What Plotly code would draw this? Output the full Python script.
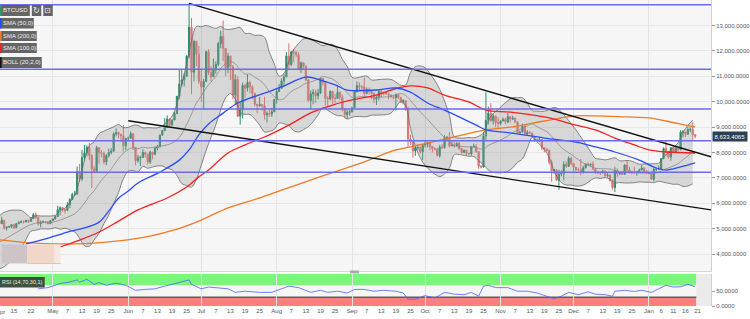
import pandas as pd
import plotly.graph_objects as go

# ------------------------------------------------------------------ data
first_date = "2019-03-20"
first_open = 4020
closes = [
    4070, 3990, 4000, 4010, 3990, 3930, 3950, 4100, 4090, 4120, 4110, 4105,
    4150, 4880, 4970, 4910, 5040, 5060, 5200, 5290, 5200, 5330, 5030, 5070, 5080, 5160, 5040, 5200, 5240, 5280, 5270, 5330, 5290, 5390, 5550, 5430, 5200, 5260, 5280, 5270, 5200, 5320,
    5380, 5480, 5750, 5830, 5760, 5720, 5940, 6150, 6350, 6360, 7250, 6960, 7800, 7980, 8200, 7880, 7360, 7260, 8190, 7990, 7960, 7630, 7880, 8000, 8060, 8730, 8790, 8720, 8660, 8270, 8550,
    8560, 8740, 8200, 7680, 7790, 7810, 8000, 7930, 7630, 8020, 7930, 8170, 8230, 8690, 8860, 8990, 9320, 9080, 9280, 9530, 10210, 10700, 10860, 11010, 11790, 12930, 11160, 12370, 11870, 10800,
    10580, 10800, 11970, 11150, 10980, 11250, 11470, 12290, 12570, 12100, 11340, 11800, 11390, 10260, 10870, 9430, 9680, 10640, 10530, 10760, 10590, 10330, 9900, 9840, 9890, 9850, 9480, 9530, 9510, 9600, 10090,
    10400, 10530, 10820, 10980, 11800, 11460, 11960, 11950, 11850, 11280, 11530, 11390, 10860, 10050, 10310, 10370, 10230, 10340, 10920, 10760, 10130, 10110, 10410, 10140, 10130, 10370, 10180, 9720, 9490, 9580, 9600,
    9760, 10390, 10630, 10580, 10580, 10320, 10480, 10400, 10320, 10100, 10160, 10410, 10360, 10360, 10310, 10260, 10190, 10160, 10280, 10170, 9990, 10040, 9700, 8530, 8430, 8060, 8190, 8200, 8040, 8300,
    8330, 8390, 8230, 8150, 8140, 7880, 8210, 8190, 8590, 8590, 8260, 8300, 8280, 8360, 8160, 8000, 8090, 7960, 7950, 8230, 8240, 8030, 7460, 7430, 8660, 9260, 9550, 9250, 9430, 9180, 9140,
    9240, 9300, 9200, 9410, 9310, 9350, 9200, 8770, 8810, 9050, 8730, 8800, 8760, 8630, 8470, 8490, 8510, 8180, 8120, 8080, 7620, 7280, 7320, 6910, 7150, 7170, 7530, 7460, 7770, 7570,
    7420, 7320, 7320, 7220, 7400, 7550, 7510, 7540, 7360, 7230, 7200, 7200, 7260, 7080, 7110, 6890, 6620, 7290, 7160, 7190, 7140, 7510, 7320, 7250, 7200, 7200, 7250, 7310, 7390, 7250, 7190,
    7200, 6950, 7340, 7350, 7350, 7760, 8160, 8040, 7820, 8190, 8020, 8180, 8110, 8810, 8810, 8720, 8900, 8910, 8700, 8633.4065,
]
highs = [
    4090, 4080, 4020, 4030, 4020, 4000, 3970, 4110, 4100, 4140, 4130, 4120,
    4170, 5080, 5300, 5050, 5060, 5240, 5270, 5360, 5300, 5470, 5350, 5100, 5120, 5180, 5200, 5230, 5300, 5330, 5330, 5350, 5350, 5460, 5620, 5640, 5490, 5320, 5320, 5300, 5290, 5330,
    5400, 5510, 5900, 5880, 5840, 5760, 6050, 6200, 6410, 6490, 7450, 7550, 8100, 8300, 8280, 8380, 7940, 7480, 8260, 8190, 8090, 8040, 7940, 8150, 8170, 8800, 8950, 8820, 8730, 9090, 8580,
    8630, 8830, 8750, 8200, 7900, 7870, 8130, 8040, 7960, 8070, 8020, 8240, 8300, 8700, 8890, 9350, 9460, 9330, 9300, 9600, 10230, 11250, 11240, 11130, 11830, 13870, 13300, 12440, 12400, 12200,
    11250, 10900, 12000, 12070, 11400, 11700, 11590, 12360, 12790, 13200, 12100, 11930, 11800, 11450, 11080, 11000, 9970, 10750, 10700, 11080, 10820, 10650, 10330, 9920, 10190, 9910, 10200, 9620, 9700, 9760, 10100,
    10500, 10690, 10920, 11090, 11950, 12300, 12000, 12070, 12000, 11950, 11580, 11550, 11450, 10900, 10450, 10500, 10470, 10500, 10960, 10920, 10800, 10230, 10440, 10420, 10300, 10650, 10400, 10290, 9740, 9670, 9680,
    9800, 10400, 10800, 10760, 10650, 10950, 10560, 10560, 10470, 10370, 10250, 10450, 10450, 10400, 10370, 10370, 10280, 10250, 10310, 10290, 10190, 10100, 10040, 9800, 8700, 8460, 8270, 8330, 8230, 8330,
    8500, 8400, 8400, 8260, 8200, 8180, 8300, 8330, 8680, 8650, 8800, 8430, 8430, 8400, 8420, 8170, 8110, 8110, 8000, 8250, 8350, 8330, 8040, 7500, 8800, 10370, 9800, 9950, 9540, 9450, 9400,
    9270, 9380, 9360, 9550, 9440, 9450, 9380, 9230, 8850, 9140, 9080, 8880, 8840, 8790, 8660, 8530, 8620, 8530, 8210, 8180, 8120, 7720, 7350, 7330, 7320, 7300, 7660, 7650, 7850, 7830,
    7570, 7420, 7400, 7750, 7480, 7560, 7620, 7560, 7650, 7390, 7270, 7260, 7320, 7300, 7190, 7150, 6940, 7440, 7380, 7220, 7190, 7520, 7690, 7430, 7280, 7440, 7270, 7360, 7510, 7420, 7320,
    7250, 7220, 7400, 7400, 7490, 7780, 8200, 8450, 8060, 8200, 8280, 8190, 8190, 8880, 8890, 8820, 9000, 8980, 9190, 8720,
]
lows = [
    4010, 3960, 3980, 3990, 3970, 3880, 3920, 3940, 4060, 4080, 4080, 4090,
    4090, 4150, 4820, 4820, 4900, 4980, 5050, 5180, 5150, 5180, 4960, 4930, 5040, 5030, 4990, 5030, 5190, 5220, 5200, 5250, 5220, 5270, 5380, 5400, 5120, 5050, 5230, 5220, 5170, 5180,
    5310, 5370, 5470, 5520, 5660, 5600, 5720, 5810, 6140, 6300, 6350, 6850, 6880, 7650, 7850, 7700, 6600, 7200, 7260, 7560, 7810, 7540, 7500, 7800, 7930, 8010, 8640, 8560, 8430, 8030, 8100,
    8480, 8540, 8100, 7500, 7600, 7470, 7780, 7800, 7540, 7550, 7730, 7890, 8080, 8200, 8650, 8850, 8990, 8970, 9060, 9270, 9530, 10100, 10600, 10600, 10980, 11700, 10300, 10800, 11400, 10700,
    10000, 9700, 10790, 11050, 10800, 10980, 11100, 11400, 12100, 11600, 11000, 11120, 10850, 10100, 9900, 9400, 9100, 9340, 10150, 10400, 10330, 10100, 9820, 9550, 9800, 9650, 9300, 9180, 9400, 9400, 9600,
    9920, 10380, 10500, 10600, 10970, 11250, 11400, 11550, 11750, 11250, 11130, 11300, 10800, 10000, 9700, 9900, 9950, 10100, 10300, 10640, 9850, 9800, 10050, 9900, 9950, 10120, 10060, 9620, 9350, 9330, 9450,
    9580, 9750, 10370, 10430, 10460, 10150, 10300, 10290, 10100, 9950, 9870, 10050, 10170, 10250, 10270, 10100, 10150, 10100, 9650, 10100, 9950, 9900, 9640, 8220, 8300, 7800, 7870, 8100, 7950, 7710,
    8200, 8200, 8090, 8000, 8080, 7850, 7800, 8140, 8160, 8450, 8200, 8250, 8190, 8240, 8110, 7960, 7980, 7870, 7900, 7880, 8200, 8010, 7360, 7370, 7400, 8500, 9100, 9200, 9100, 8990, 8950,
    9080, 9230, 9110, 9150, 9180, 9290, 9150, 8730, 8750, 8790, 8660, 8680, 8730, 8580, 8420, 8460, 8420, 8100, 8000, 8040, 7520, 6850, 7160, 6900, 6530, 7060, 6900, 7400, 7430, 7500,
    7250, 7270, 7270, 7100, 7170, 7370, 7490, 7440, 7300, 7160, 7160, 7110, 7180, 7060, 7030, 6860, 6540, 6440, 7040, 7110, 7120, 7140, 7270, 7170, 7130, 7160, 7080, 7240, 7300, 7220, 7150,
    7150, 6930, 6870, 7270, 7320, 7350, 7740, 7860, 7760, 7680, 8000, 7990, 8050, 8110, 8600, 8610, 8690, 8800, 8490, 8560,
]

# Bollinger band (20,2) values read every second day from 2019-04-08, in tens of USD
bb_first_date = "2019-04-08"
bb_upper_tens = [
    538, 559, 568, 573, 573, 572, 559, 543, 551, 550, 550, 550, 553, 571, 581, 603, 632, 691, 769, 827,
    843, 874, 884, 893, 901, 910, 898, 899, 907, 907, 897, 898, 897, 897, 905, 922, 943, 991, 1069, 1150,
    1239, 1296, 1295, 1300, 1294, 1289, 1296, 1285, 1285, 1289, 1292, 1269, 1269, 1261, 1262, 1254, 1195, 1149, 1101, 1111,
    1159, 1206, 1229, 1247, 1248, 1241, 1230, 1221, 1225, 1225, 1206, 1167, 1138, 1096, 1094, 1099, 1101, 1086, 1086, 1088,
    1089, 1088, 1077, 1065, 1066, 1115, 1138, 1141, 1134, 1111, 1083, 1049, 1002, 946, 862, 857, 857, 859, 858, 864,
    877, 925, 953, 969, 988, 1004, 1016, 1016, 1015, 995, 965, 963, 962, 965, 975, 976, 959, 938, 914, 889,
    861, 833, 803, 777, 774, 771, 775, 779, 767, 768, 768, 762, 754, 755, 755, 756, 758, 782, 800, 820,
    838, 879, 907, 928,
]
bb_middle_tens = [
    440, 452, 463, 474, 485, 497, 508, 516, 522, 524, 524, 524, 528, 534, 541, 549, 559, 577, 601, 629,
    649, 678, 702, 723, 749, 776, 797, 812, 818, 815, 821, 818, 820, 822, 826, 830, 837, 850, 873, 910,
    951, 995, 1022, 1054, 1077, 1099, 1131, 1150, 1158, 1149, 1125, 1109, 1109, 1096, 1085, 1067, 1039, 1020, 1008, 1012,
    1032, 1046, 1055, 1068, 1075, 1081, 1089, 1099, 1095, 1089, 1075, 1055, 1035, 1017, 1018, 1020, 1021, 1016, 1016, 1018,
    1019, 1021, 1028, 1032, 1025, 1005, 982, 960, 941, 920, 899, 877, 859, 842, 826, 824, 823, 822, 821, 815,
    814, 828, 837, 844, 854, 865, 878, 888, 895, 905, 912, 902, 892, 882, 864, 841, 820, 805, 793, 778,
    765, 754, 746, 738, 736, 736, 735, 729, 724, 724, 724, 721, 719, 719, 719, 718, 722, 732, 739, 747,
    756, 772, 787, 802,
]
bb_lower_tens = [
    342, 345, 358, 376, 397, 422, 458, 490, 494, 499, 499, 499, 504, 498, 502, 495, 487, 463, 433, 431,
    456, 482, 520, 554, 598, 643, 697, 726, 729, 723, 745, 738, 743, 747, 747, 738, 732, 710, 678, 670,
    664, 694, 750, 808, 860, 909, 967, 1015, 1032, 1010, 958, 950, 950, 932, 908, 881, 883, 891, 916, 913,
    906, 886, 881, 890, 902, 921, 948, 977, 966, 954, 945, 944, 932, 939, 942, 941, 941, 947, 947, 948,
    949, 955, 979, 1000, 985, 895, 826, 779, 749, 730, 715, 705, 716, 739, 791, 792, 789, 785, 784, 767,
    752, 731, 722, 720, 721, 726, 740, 761, 775, 816, 859, 842, 823, 799, 753, 707, 682, 672, 672, 668,
    669, 676, 690, 700, 698, 701, 695, 680, 682, 680, 680, 681, 684, 683, 683, 681, 687, 683, 679, 675,
    675, 666, 668, 677,
]

# SMA values
sma50_dates = ["2019-04-20", "2019-04-28", "2019-05-07", "2019-05-14", "2019-05-20", "2019-05-24", "2019-05-28", "2019-06-01", "2019-06-05", "2019-06-14", "2019-06-22", "2019-06-26", "2019-06-30", "2019-07-04", "2019-07-10", "2019-07-16", "2019-07-27", "2019-08-03", "2019-08-13", "2019-08-19", "2019-08-25", "2019-08-30", "2019-09-11", "2019-09-19", "2019-09-25", "2019-10-02", "2019-10-09", "2019-10-15", "2019-10-22", "2019-10-26", "2019-11-05", "2019-11-19", "2019-12-02", "2019-12-10", "2019-12-18", "2019-12-28", "2020-01-04", "2020-01-08", "2020-01-14", "2020-01-20"]
sma50_vals = [4400, 4600, 4870, 5030, 5260, 5700, 6200, 6480, 6800, 7230, 7700, 8100, 8690, 9120, 9550, 9950, 10340, 10580, 10970, 10850, 10660, 10460, 10460, 10540, 10380, 9950, 9670, 9400, 9080, 8890, 8770, 8570, 8410, 8220, 8020, 7700, 7390, 7310, 7430, 7590]
sma100_dates = ["2019-05-04", "2019-05-12", "2019-05-20", "2019-05-28", "2019-06-05", "2019-06-17", "2019-06-25", "2019-06-30", "2019-07-04", "2019-07-12", "2019-07-19", "2019-07-27", "2019-08-06", "2019-08-15", "2019-08-24", "2019-09-01", "2019-09-11", "2019-09-19", "2019-09-25", "2019-10-02", "2019-10-09", "2019-10-19", "2019-10-26", "2019-11-05", "2019-11-19", "2019-12-02", "2019-12-10", "2019-12-18", "2019-12-26", "2020-01-01", "2020-01-08", "2020-01-20"]
sma100_vals = [4280, 4550, 4870, 5300, 5740, 6210, 6640, 7040, 7310, 7980, 8300, 8610, 9080, 9560, 9870, 10070, 10260, 10520, 10620, 10540, 10260, 9990, 9670, 9590, 9400, 9080, 8890, 8570, 8300, 8100, 8020, 7980]
sma200_dates = ["2019-04-09", "2019-04-22", "2019-05-04", "2019-05-16", "2019-05-28", "2019-06-10", "2019-06-20", "2019-06-30", "2019-07-12", "2019-07-25", "2019-08-03", "2019-08-14", "2019-08-22", "2019-09-06", "2019-09-11", "2019-09-19", "2019-09-25", "2019-10-09", "2019-10-26", "2019-11-05", "2019-11-19", "2019-12-02", "2019-12-10", "2019-12-22", "2020-01-01", "2020-01-08", "2020-01-16", "2020-01-20"]
sma200_vals = [4560, 4440, 4400, 4420, 4520, 4710, 4950, 5300, 5820, 6210, 6520, 6880, 7150, 7630, 7820, 8100, 8220, 8530, 8890, 9000, 9240, 9440, 9440, 9400, 9360, 9240, 9080, 9000]

# RSI (14)
rsi_dates = ["2019-04-25", "2019-04-29", "2019-05-01", "2019-05-04", "2019-05-08", "2019-05-11", "2019-05-12", "2019-05-15", "2019-05-18", "2019-05-20", "2019-05-23", "2019-05-27", "2019-05-31", "2019-06-04", "2019-06-08", "2019-06-12", "2019-06-16", "2019-06-22", "2019-06-26", "2019-06-27", "2019-07-01", "2019-07-04", "2019-07-08", "2019-07-12", "2019-07-15", "2019-07-19", "2019-07-25", "2019-07-30", "2019-08-03", "2019-08-06", "2019-08-10", "2019-08-15", "2019-08-19", "2019-08-22", "2019-08-26", "2019-08-30", "2019-09-02", "2019-09-06", "2019-09-10", "2019-09-14", "2019-09-19", "2019-09-22", "2019-09-24", "2019-09-27", "2019-10-01", "2019-10-05", "2019-10-09", "2019-10-13", "2019-10-17", "2019-10-20", "2019-10-23", "2019-10-25", "2019-10-27", "2019-10-30", "2019-11-04", "2019-11-08", "2019-11-12", "2019-11-16", "2019-11-20", "2019-11-23", "2019-11-26", "2019-11-29", "2019-12-03", "2019-12-07", "2019-12-10", "2019-12-14", "2019-12-17", "2019-12-18", "2019-12-22", "2019-12-26", "2019-12-29", "2020-01-02", "2020-01-05", "2020-01-08", "2020-01-11", "2020-01-14", "2020-01-17", "2020-01-20"]
rsi_vals = [58, 62, 67, 76, 81, 88, 80, 90, 73, 79, 70, 77, 70, 53, 56, 58, 67, 79, 88, 73, 58, 64, 62, 58, 46, 50, 46, 46, 58, 67, 62, 46, 53, 46, 50, 44, 56, 56, 50, 53, 50, 44, 23, 23, 35, 27, 46, 40, 38, 46, 33, 67, 70, 62, 62, 50, 50, 44, 33, 25, 33, 46, 38, 48, 40, 38, 33, 50, 53, 49, 53, 46, 58, 70, 64, 65, 73, 65]

# drawings on the chart
h_levels = [13819, 11276, 9713, 8461, 7220]
trend_upper_dates = ["2019-06-26", "2020-01-26 12:00"]
trend_upper_vals = [13870, 7830]
trend_lower_dates = ["2019-06-01", "2020-01-26 12:00"]
trend_lower_vals = [9250, 5740]
position_dates = ["2019-04-10 00:00", "2019-04-20 14:00", "2019-05-01 18:00", "2019-05-04 05:00"]
position_vals = [4380, 3630]

view_range = ["2019-04-09 07:00", "2020-01-26 12:00"]
y_ticks = [4000, 5000, 6000, 7000, 8000, 9000, 10000, 11000, 12000, 13000]
rsi_ticks = [0, 50]
month_starts = ["2019-05-01", "2019-06-01", "2019-07-01", "2019-08-01", "2019-09-01", "2019-10-01", "2019-11-01", "2019-12-01", "2020-01-01"]
edge_tick_date = "2019-04-09 07:00"
edge_tick_text = "Apr"
tick_dates = ["2019-04-15", "2019-04-22",
              "2019-05-01", "2019-05-07", "2019-05-13", "2019-05-19", "2019-05-25",
              "2019-06-01", "2019-06-07", "2019-06-13", "2019-06-19", "2019-06-25",
              "2019-07-01", "2019-07-07", "2019-07-13", "2019-07-19", "2019-07-25",
              "2019-08-01", "2019-08-07", "2019-08-13", "2019-08-19", "2019-08-25",
              "2019-09-01", "2019-09-07", "2019-09-13", "2019-09-19", "2019-09-25",
              "2019-10-01", "2019-10-07", "2019-10-13", "2019-10-19", "2019-10-25",
              "2019-11-01", "2019-11-07", "2019-11-13", "2019-11-19", "2019-11-25",
              "2019-12-01", "2019-12-07", "2019-12-13", "2019-12-19", "2019-12-25",
              "2020-01-01", "2020-01-06", "2020-01-11", "2020-01-16", "2020-01-21"]
tick_text = ["15", "22",
             "May", "7", "13", "19", "25",
             "Jun", "7", "13", "19", "25",
             "Jul", "7", "13", "19", "25",
             "Aug", "7", "13", "19", "25",
             "Sep", "7", "13", "19", "25",
             "Oct", "7", "13", "19", "25",
             "Nov", "7", "13", "19", "25",
             "Dec", "7", "13", "19", "25",
             "Jan", "6", "11", "16", "21"]

dates = pd.date_range(first_date, periods=len(closes), freq="D")
opens = [first_open] + closes[:-1]
bb_dates = pd.date_range(bb_first_date, periods=len(bb_upper_tens), freq="2D")
bb_upper = [v * 10 for v in bb_upper_tens]
bb_middle = [v * 10 for v in bb_middle_tens]
bb_lower = [v * 10 for v in bb_lower_tens]

W, H = 750, 319
PW, PH = 715, 306


def pxx(v):
    return v / PW


def pxy(v):
    return 1 - v / PH


fig = go.Figure()
fig.add_trace(go.Scatter(x=bb_dates, y=bb_upper, mode="lines", line=dict(color="#6a6a6a", width=0.8, shape="spline"),
                         xaxis="x", yaxis="y", hoverinfo="skip"))
fig.add_trace(go.Scatter(x=bb_dates, y=bb_lower, mode="lines", line=dict(color="#6a6a6a", width=0.8, shape="spline"),
                         fill="tonexty", fillcolor="rgba(150,150,150,0.32)", xaxis="x", yaxis="y", hoverinfo="skip"))
fig.add_trace(go.Scatter(x=bb_dates, y=bb_middle, mode="lines", line=dict(color="#8a8a8a", width=0.8, shape="spline"),
                         xaxis="x", yaxis="y", hoverinfo="skip"))
fig.add_trace(go.Candlestick(x=dates, open=opens, high=highs, low=lows, close=closes,
                             increasing=dict(line=dict(color="#2e8b6a", width=1), fillcolor="#2e8b6a"),
                             decreasing=dict(line=dict(color="#e0726c", width=1), fillcolor="#e0726c"),
                             whiskerwidth=0, xaxis="x", yaxis="y"))
fig.add_trace(go.Scatter(x=sma200_dates, y=sma200_vals, mode="lines", line=dict(color="#f07a26", width=1.3, shape="spline"), xaxis="x", yaxis="y"))
fig.add_trace(go.Scatter(x=sma100_dates, y=sma100_vals, mode="lines", line=dict(color="#f52020", width=1.3, shape="spline"), xaxis="x", yaxis="y"))
fig.add_trace(go.Scatter(x=sma50_dates, y=sma50_vals, mode="lines", line=dict(color="#2a4cff", width=1.3, shape="spline"), xaxis="x", yaxis="y"))
fig.add_trace(go.Scatter(x=trend_upper_dates, y=trend_upper_vals, mode="lines", line=dict(color="#111111", width=1.4), xaxis="x", yaxis="y"))
fig.add_trace(go.Scatter(x=trend_lower_dates, y=trend_lower_vals, mode="lines", line=dict(color="#111111", width=1.4), xaxis="x", yaxis="y"))
fig.add_trace(go.Scatter(x=rsi_dates, y=rsi_vals, mode="lines", line=dict(color="#4b62ff", width=0.8), xaxis="x2", yaxis="y2"))

shapes = []
for v in h_levels:
    shapes.append(dict(type="line", xref="x domain", yref="y", x0=0, x1=1, y0=v, y1=v,
                       line=dict(color="#6a6af2", width=1.4), layer="above"))
# rsi bands
last_edge = dates[-1] + pd.Timedelta(hours=12)
shapes += [
    dict(type="rect", xref="x2", yref="y2", x0=view_range[0], x1=last_edge, y0=70, y1=108,
         fillcolor="#7cf57c", line=dict(width=0), layer="below"),
    dict(type="rect", xref="x2", yref="y2", x0=view_range[0], x1=last_edge, y0=0, y1=30,
         fillcolor="#ff7e7e", line=dict(width=0), layer="below"),
    dict(type="rect", xref="x2", yref="y2", x0=last_edge, x1=view_range[1], y0=0, y1=108,
         fillcolor="#ebebeb", line=dict(width=0), layer="below"),
    dict(type="line", xref="x2", yref="y2", x0=view_range[0], x1=last_edge, y0=30, y1=30,
         line=dict(color="#333333", width=1), layer="below"),
]
# position tool
pd0, pd1, pd2, pd3 = position_dates
shapes += [
    dict(type="rect", xref="x", yref="y", x0=pd0, x1=pd1, y0=position_vals[1], y1=position_vals[0],
         fillcolor="#cec4c7", line=dict(width=0), layer="above"),
    dict(type="rect", xref="x", yref="y", x0=pd1, x1=pd2, y0=position_vals[1], y1=position_vals[0],
         fillcolor="#f2d6c7", line=dict(width=0), layer="above"),
    dict(type="rect", xref="x", yref="y", x0=pd2, x1=pd3, y0=position_vals[1], y1=position_vals[0],
         fillcolor="#f7e7e2", line=dict(width=0), layer="above"),
    dict(type="line", xref="x", yref="y", x0=pd1, x1=pd3, y0=position_vals[1], y1=position_vals[1],
         line=dict(color="#a8e3a8", width=1), layer="above"),
]
# scroll handle
shapes.append(dict(type="rect", xref="paper", yref="paper", x0=pxx(352), x1=pxx(361), y0=pxy(273.5), y1=pxy(270.5),
                   fillcolor="#aaaaaa", line=dict(width=0), layer="above"))

annotations = []
boxes = [
    ("BTCUSD", 0, 30, 5, 16, "#2d9a74"),
    ("SMA (50,0)", 0, 34, 18, 28.5, "#2a4cff"),
    ("SMA (200,0)", 0, 37, 31, 41, "#f07a26"),
    ("SMA (100,0)", 0, 37, 43, 53, "#f52020"),
    ("BOLL (20,2,0)", 0, 42, 57, 68, "#111111"),
]
for text, a, b, t, btm, col in boxes:
    shapes.append(dict(type="rect", xref="paper", yref="paper", x0=pxx(a), x1=pxx(b), y0=pxy(btm), y1=pxy(t),
                       fillcolor="rgba(88,88,88,0.92)", line=dict(width=0), layer="above"))
    shapes.append(dict(type="rect", xref="paper", yref="paper", x0=pxx(a), x1=pxx(a + 1.6), y0=pxy(btm), y1=pxy(t),
                       fillcolor=col, line=dict(width=0), layer="above"))
    annotations.append(dict(xref="paper", yref="paper", x=pxx((a + b) / 2 + 1), y=pxy((t + btm) / 2), text=text,
                            showarrow=False, font=dict(size=6, color="#f0f0f0", family="Arial"),
                            xanchor="center", yanchor="middle"))
for glyph, a, b in [("\u21bb", 32, 41.5), ("\u22a1", 43.5, 53)]:
    shapes.append(dict(type="rect", xref="paper", yref="paper", x0=pxx(a), x1=pxx(b), y0=pxy(16), y1=pxy(5),
                       fillcolor="rgba(88,88,88,0.92)", line=dict(width=0), layer="above"))
    annotations.append(dict(xref="paper", yref="paper", x=pxx((a + b) / 2), y=pxy(10.5), text=glyph,
                            showarrow=False, font=dict(size=8, color="#f0f0f0", family="DejaVu Sans"),
                            xanchor="center", yanchor="middle"))
# rsi label
shapes.append(dict(type="rect", xref="paper", yref="paper", x0=0, x1=pxx(45), y0=pxy(287.5), y1=pxy(277),
                   fillcolor="rgba(50,62,50,0.9)", line=dict(width=0), layer="above"))
annotations.append(dict(xref="paper", yref="paper", x=pxx(23), y=pxy(282.2), text="RSI (14,70,30,1)",
                        showarrow=False, font=dict(size=5.5, color="#f0f0f0", family="Arial"),
                        xanchor="center", yanchor="middle"))
# last price label
annotations.append(dict(xref="paper", yref="y", x=1 + 1 / PW, y=closes[-1], text=f"{closes[-1]:,.4f}",
                        showarrow=False, font=dict(size=6, color="#ffffff", family="Arial"),
                        xanchor="left", yanchor="middle", bgcolor="#2b3f55", borderpad=1.5))
# month label at the left edge of the time axis (partly cut off, as in the source)
annotations.append(dict(xref="x2", yref="paper", x=edge_tick_date, y=pxy(312), text=edge_tick_text,
                        showarrow=False, font=dict(size=6, color="#555555", family="Arial"),
                        xanchor="center", yanchor="middle"))

axis_font = dict(size=6, color="#555555", family="Arial")
fig.update_layout(
    width=W, height=H, autosize=False,
    margin=dict(l=0, r=W - PW, t=0, b=H - PH, pad=0),
    paper_bgcolor="#ffffff", plot_bgcolor="#f6f6f6",
    showlegend=False,
    xaxis=dict(domain=[0, 1], anchor="y", type="date", range=view_range, rangeslider=dict(visible=False),
               tickmode="array", tickvals=month_starts, showticklabels=False, ticks="",
               showgrid=True, gridcolor="#e3e3e3", gridwidth=1, zeroline=False,
               showline=True, linecolor="#d6d6d6", linewidth=1),
    xaxis2=dict(domain=[0, 1], anchor="y2", type="date", range=view_range, matches="x",
                tickmode="array", tickvals=tick_dates, ticktext=tick_text, ticks="",
                tickfont=axis_font, showgrid=False, zeroline=False, showline=False,
                minor=dict(tickmode="array", tickvals=month_starts, showgrid=True, gridcolor="#e3e3e3", ticks="")),
    yaxis=dict(domain=[1 - 271 / PH, 1], anchor="x", side="right", range=[3335, 14004],
               tickmode="array", tickvals=y_ticks, tickformat=",.4f", ticks="outside", ticklen=3,
               tickcolor="#999999", tickfont=axis_font, showgrid=True, gridcolor="#e6e6e6",
               zeroline=False, showline=True, linecolor="#d0d0d0"),
    yaxis2=dict(domain=[0, 1 - 274 / PH], anchor="x2", side="right", range=[0, 108],
                tickmode="array", tickvals=rsi_ticks, tickformat=".4f", ticks="outside", ticklen=3,
                tickcolor="#999999", tickfont=axis_font, showgrid=False, zeroline=False,
                showline=True, linecolor="#d0d0d0"),
    shapes=shapes, annotations=annotations,
)

fig.write_html("out.html")
